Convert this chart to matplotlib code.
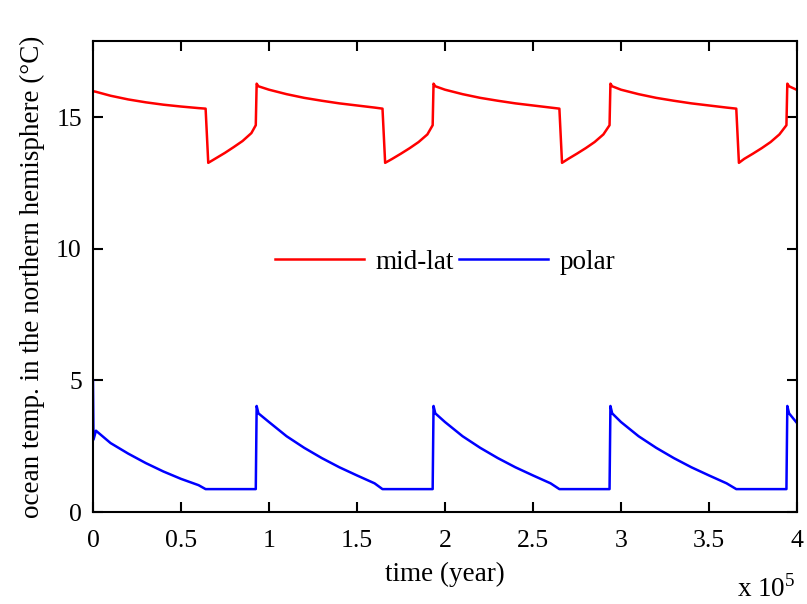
import matplotlib.pyplot as plt

plt.rcParams['font.family'] = ['Liberation Serif', 'DejaVu Serif']
plt.rcParams['mathtext.fontset'] = 'custom'
plt.rcParams['mathtext.rm'] = 'Liberation Serif'

# time in units of 1e5 years
t = [0.0, 0.003, 0.017, 0.1, 0.2, 0.3, 0.4, 0.5, 0.6, 0.64, 0.655, 0.7, 0.75, 0.8, 0.85, 0.9, 0.925, 0.93, 0.94,
     1.0, 1.1, 1.2, 1.3, 1.4, 1.5, 1.6, 1.645, 1.66, 1.7, 1.75, 1.8, 1.85, 1.9, 1.93, 1.935, 1.945,
     2.0, 2.1, 2.2, 2.3, 2.4, 2.5, 2.6, 2.65, 2.665, 2.7, 2.75, 2.8, 2.85, 2.9, 2.935, 2.94, 2.95,
     3.0, 3.1, 3.2, 3.3, 3.4, 3.5, 3.6, 3.655, 3.67, 3.7, 3.75, 3.8, 3.85, 3.9, 3.94, 3.945, 3.955, 4.0]

midlat = [16.0, 15.99, 15.97, 15.82, 15.68, 15.57, 15.48, 15.41, 15.35, 15.33, 13.27, 13.45, 13.65, 13.87, 14.1, 14.4, 14.7, 16.28, 16.18,
          16.05, 15.88, 15.74, 15.63, 15.53, 15.45, 15.37, 15.33, 13.27, 13.42, 13.62, 13.83, 14.06, 14.35, 14.7, 16.28, 16.18,
          16.05, 15.88, 15.74, 15.63, 15.53, 15.45, 15.37, 15.33, 13.27, 13.42, 13.62, 13.83, 14.06, 14.35, 14.7, 16.28, 16.18,
          16.05, 15.88, 15.74, 15.63, 15.53, 15.45, 15.37, 15.33, 13.27, 13.42, 13.62, 13.83, 14.06, 14.35, 14.7, 16.28, 16.18, 16.04]

polar = [5.0, 2.75, 3.09, 2.62, 2.22, 1.86, 1.54, 1.26, 1.02, 0.87, 0.87, 0.87, 0.87, 0.87, 0.87, 0.87, 0.87, 4.03, 3.75,
         3.42, 2.88, 2.44, 2.05, 1.7, 1.39, 1.09, 0.87, 0.87, 0.87, 0.87, 0.87, 0.87, 0.87, 0.87, 4.03, 3.75,
         3.42, 2.88, 2.44, 2.05, 1.7, 1.39, 1.09, 0.87, 0.87, 0.87, 0.87, 0.87, 0.87, 0.87, 0.87, 4.03, 3.75,
         3.42, 2.88, 2.44, 2.05, 1.7, 1.39, 1.09, 0.87, 0.87, 0.87, 0.87, 0.87, 0.87, 0.87, 0.87, 4.03, 3.75, 3.38]

xticks = [0, 0.5, 1, 1.5, 2, 2.5, 3, 3.5, 4]
xticklabels = ['0', '0.5', '1', '1.5', '2', '2.5', '3', '3.5', '4']
yticks = [0, 5, 10, 15]

fig = plt.figure(figsize=(8.07, 6.04), dpi=100)
ax = fig.add_axes([0.1152, 0.1523, 0.8724, 0.7798])

ax.plot(t, midlat, color='red', lw=1.8, label='mid-lat')
ax.plot(t, polar, color='blue', lw=1.8, label='polar')

ax.set_xlim(0, 4)
ax.set_ylim(0, 17.9)
ax.set_xticks(xticks)
ax.set_xticklabels(xticklabels)
ax.set_yticks(yticks)
ax.tick_params(direction='in', length=7, width=1.5, labelsize=18.5, top=True, right=True)
ax.tick_params(axis='x', pad=13)
ax.tick_params(axis='y', pad=8)
for s in ax.spines.values():
    s.set_linewidth(1.5)

ax.set_xlabel('time (year)', fontsize=19.5, labelpad=7)
ax.set_ylabel('ocean temp. in the northern hemisphere (°C)', fontsize=19.5, labelpad=8)

ax.legend(loc='center', bbox_to_anchor=(0.5, 0.53), ncol=2, frameon=False, fontsize=19.5,
          handlelength=3.3, columnspacing=0.2, handletextpad=0.4)

fig.text(0.913, 0.012, r'x 10$^{5}$', fontsize=19.5)

fig.savefig('out.png', dpi=100)
